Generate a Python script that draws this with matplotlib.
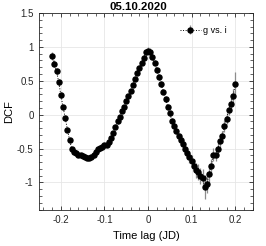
import numpy as np
import matplotlib
matplotlib.use("Agg")
import matplotlib.pyplot as plt
from matplotlib.ticker import MultipleLocator, FuncFormatter

plt.rcParams['font.family'] = ['Liberation Sans', 'DejaVu Sans']

# time lag (JD) and discrete correlation function
lag = [-0.220, -0.215, -0.210, -0.205, -0.200, -0.195, -0.190, -0.185, -0.180, -0.175,
       -0.170, -0.165, -0.160, -0.155, -0.150, -0.145, -0.140, -0.135, -0.130, -0.125,
       -0.120, -0.115, -0.110, -0.105, -0.100, -0.095, -0.090, -0.085, -0.080, -0.075,
       -0.070, -0.065, -0.060, -0.055, -0.050, -0.045, -0.040, -0.035, -0.030, -0.025,
       -0.020, -0.015, -0.010, -0.005, 0.000, 0.005, 0.010, 0.015, 0.020, 0.025,
       0.030, 0.035, 0.040, 0.045, 0.050, 0.055, 0.060, 0.065, 0.070, 0.075,
       0.080, 0.085, 0.090, 0.095, 0.100, 0.105, 0.110, 0.115, 0.120, 0.125,
       0.130, 0.135, 0.140, 0.145, 0.150, 0.155, 0.160, 0.165, 0.170, 0.175,
       0.180, 0.185, 0.190, 0.195, 0.200]
dcf = [0.87, 0.75, 0.64, 0.48, 0.29, 0.11, -0.05, -0.22, -0.38, -0.50,
       -0.55, -0.57, -0.59, -0.60, -0.61, -0.62, -0.64, -0.64, -0.62, -0.59,
       -0.55, -0.51, -0.49, -0.47, -0.45, -0.44, -0.41, -0.35, -0.27, -0.18,
       -0.10, -0.03, 0.05, 0.12, 0.20, 0.28, 0.35, 0.44, 0.53, 0.62,
       0.69, 0.77, 0.84, 0.92, 0.94, 0.93, 0.85, 0.77, 0.66, 0.56,
       0.45, 0.34, 0.23, 0.12, 0.02, -0.10, -0.16, -0.24, -0.32, -0.38,
       -0.43, -0.51, -0.57, -0.63, -0.68, -0.75, -0.82, -0.84, -0.90, -0.93,
       -1.07, -1.02, -0.87, -0.76, -0.59, -0.59, -0.50, -0.39, -0.32, -0.17,
       -0.06, 0.07, 0.16, 0.28, 0.45]
err = [0.06, 0.05, 0.05, 0.05, 0.04, 0.04, 0.04, 0.04, 0.04, 0.03,
       0.03, 0.03, 0.03, 0.03, 0.03, 0.03, 0.03, 0.03, 0.03, 0.03,
       0.03, 0.03, 0.03, 0.03, 0.03, 0.03, 0.03, 0.03, 0.03, 0.03,
       0.03, 0.03, 0.03, 0.03, 0.03, 0.03, 0.03, 0.03, 0.03, 0.04,
       0.04, 0.04, 0.04, 0.05, 0.06, 0.05, 0.04, 0.04, 0.04, 0.04,
       0.04, 0.04, 0.04, 0.04, 0.04, 0.05, 0.05, 0.05, 0.05, 0.06,
       0.06, 0.07, 0.07, 0.08, 0.09, 0.10, 0.11, 0.12, 0.12, 0.13,
       0.18, 0.14, 0.12, 0.11, 0.10, 0.10, 0.09, 0.09, 0.08, 0.09,
       0.08, 0.08, 0.08, 0.10, 0.18]

fig = plt.figure(figsize=(2.66, 2.46), dpi=100)
ax = fig.add_axes([0.147, 0.148, 0.803, 0.799])

ax.errorbar(lag, dcf, yerr=err, fmt='o', color='black', markersize=3.6,
            ecolor='#8c8c8c', elinewidth=0.9, capsize=0, ls=':', lw=0.7,
            label='g vs. i')

ax.set_xlim(-0.25, 0.24)
ax.set_ylim(-1.4, 1.5)
ax.xaxis.set_major_locator(MultipleLocator(0.1))
ax.xaxis.set_minor_locator(MultipleLocator(0.02))
ax.yaxis.set_major_locator(MultipleLocator(0.5))
ax.yaxis.set_minor_locator(MultipleLocator(0.1))
fmt = FuncFormatter(lambda v, p: '%g' % round(v, 3))
ax.xaxis.set_major_formatter(fmt)
ax.yaxis.set_major_formatter(fmt)
ax.tick_params(which='both', direction='in', top=True, right=True,
               labelsize=7, colors='#262626', pad=4)
ax.tick_params(which='major', length=3, width=0.6)
ax.tick_params(which='minor', length=2, width=0.5)
for s in ax.spines.values():
    s.set_linewidth(0.6)
    s.set_color('#262626')
ax.grid(True, which='major', color='#e6e6e6', lw=0.6)
ax.set_axisbelow(True)

ax.set_xlabel('Time lag (JD)', fontsize=8, labelpad=4)
ax.set_ylabel('DCF', fontsize=8, labelpad=2)
ax.set_title('05.10.2020', fontsize=8.2, fontweight='bold', pad=2, x=0.463)
ax.legend(loc='center left', bbox_to_anchor=(0.659, 0.912), frameon=False,
          fontsize=6.5, handlelength=2.3, handletextpad=0.25, borderpad=0,
          borderaxespad=0)

fig.savefig('out.png', dpi=100)
